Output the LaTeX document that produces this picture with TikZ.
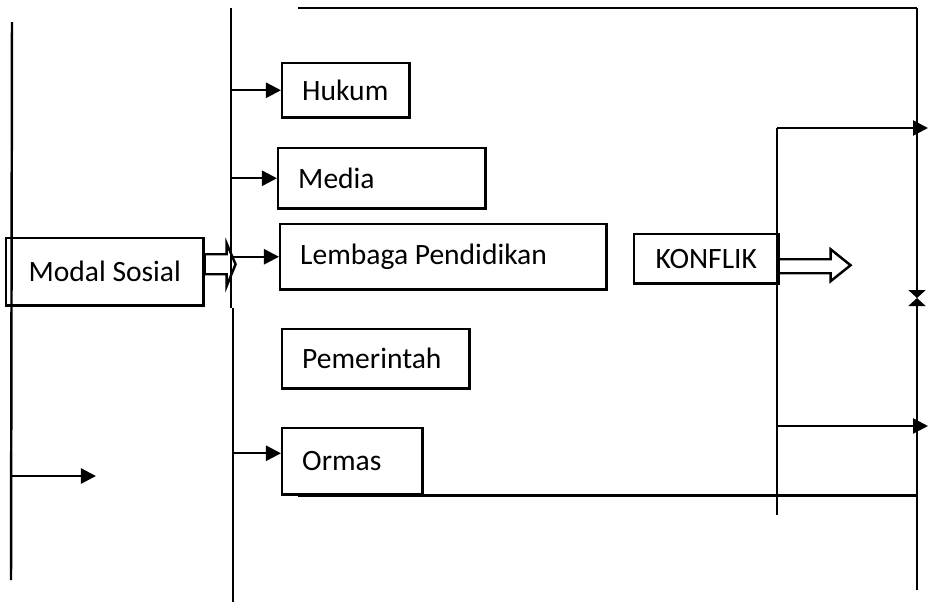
\documentclass[tikz,border=0pt]{standalone}
\usepackage{fontspec}
\setmainfont{Carlito}
\usepackage{tikz}
\usetikzlibrary{arrows.meta, positioning}

\begin{document}
\begin{tikzpicture}[x=0.01cm, y=-0.01cm, line width=0.7pt,
		arr/.style={-{Triangle[length=0.15cm,width=0.15cm]}},
		tie/.style={-{Triangle[length=0.08cm,width=0.17cm]}},
		box/.style={draw, anchor=north west, font=\fontsize{8.4}{10}\selectfont, inner xsep=0.2cm, align=flush left},
		plain/.style={draw, anchor=north west, font=\fontsize{8.4}{10}\selectfont, inner sep=0pt}]
			\useasboundingbox (0,0) rectangle (931,605);
			% Boxes
			\node[plain, minimum width=1.97cm, minimum height=0.67cm] (modal) at (5,237) {Modal Sosial};
			\node[box, text width=0.87cm, minimum height=0.54cm] (hukum) at (281,62) {Hukum};
			\node[box, text width=1.67cm, minimum height=0.60cm] (media) at (277,147) {Media};
			\node[box, text width=2.86cm, minimum height=0.65cm] (lembaga) at (279,223) {Lembaga Pendidikan};
			\node[box, text width=1.47cm, minimum height=0.59cm] (pemerintah) at (281,328) {Pemerintah};
			\node[box, text width=1.00cm, minimum height=0.66cm] (ormas) at (281,427) {Ormas};
			\node[plain, minimum width=1.44cm, minimum height=0.49cm] (konflik) at (633,233) {KONFLIK};
			% line ends
			\coordinate (lTop) at (12,22);
			\coordinate (lBot) at (11,580);
			\coordinate (bTop) at (231,8);
			\coordinate (bJog) at (231,308);
			\coordinate (bJog2) at (233,308);
			\coordinate (bBot) at (233,602);
			\coordinate (rTop) at (917,8);
			\coordinate (rMid) at (917,298);
			\coordinate (rBot) at (917,590);
			\coordinate (kTop) at (777,128);
			\coordinate (kBot) at (777,515);
			\coordinate (lArrow) at (96,476);
			\coordinate (topStart) at (298,8);
			\coordinate (ormasIn) at ([yshift=0.08cm]ormas.west);
			% Lines
			\draw (lTop) -- (lBot);
			\draw (bTop) -- (bJog);
			\draw (bJog2) -- (bBot);
			\draw (topStart) -- (rTop);
			\draw[tie] (rTop) -- (rMid);
			\draw[tie] (rBot) -- (rMid);
			\draw (kTop) -- (kBot);
			\draw ([xshift=0.17cm]ormas.south west) -- (ormas.south west -| rTop);
			% Arrows
			\draw[arr] (lArrow -| lTop) -- (lArrow);
			\draw[arr] (bTop |- hukum.west) -- (hukum.west);
			\draw[arr] (bTop |- media.west) -- (media.west);
			\draw[arr] (bTop |- lembaga.west) -- (lembaga.west);
			\draw[arr] (bBot |- ormasIn) -- (ormasIn);
			\draw[arr] (kTop) -- ([xshift=0.11cm]kTop -| rTop);
			\draw[arr] (kTop |- 0,426) -- ([xshift=0.11cm]rTop |- 0,426);
			% hollow arrows
			\draw (modal.east) ++(0,-17.5) -- ++(22,0) -- ++(0,-11) -- ++(9,21) -- ++(-9,22) -- ++(0,-12) -- ++(-22,0) -- cycle;
			\draw (konflik.east) ++(0,0.5) -- ++(51,0) -- ++(0,-10) -- ++(20,16) -- ++(-20,16) -- ++(0,-8) -- ++(-51,0);
		\end{tikzpicture}
\end{document}
